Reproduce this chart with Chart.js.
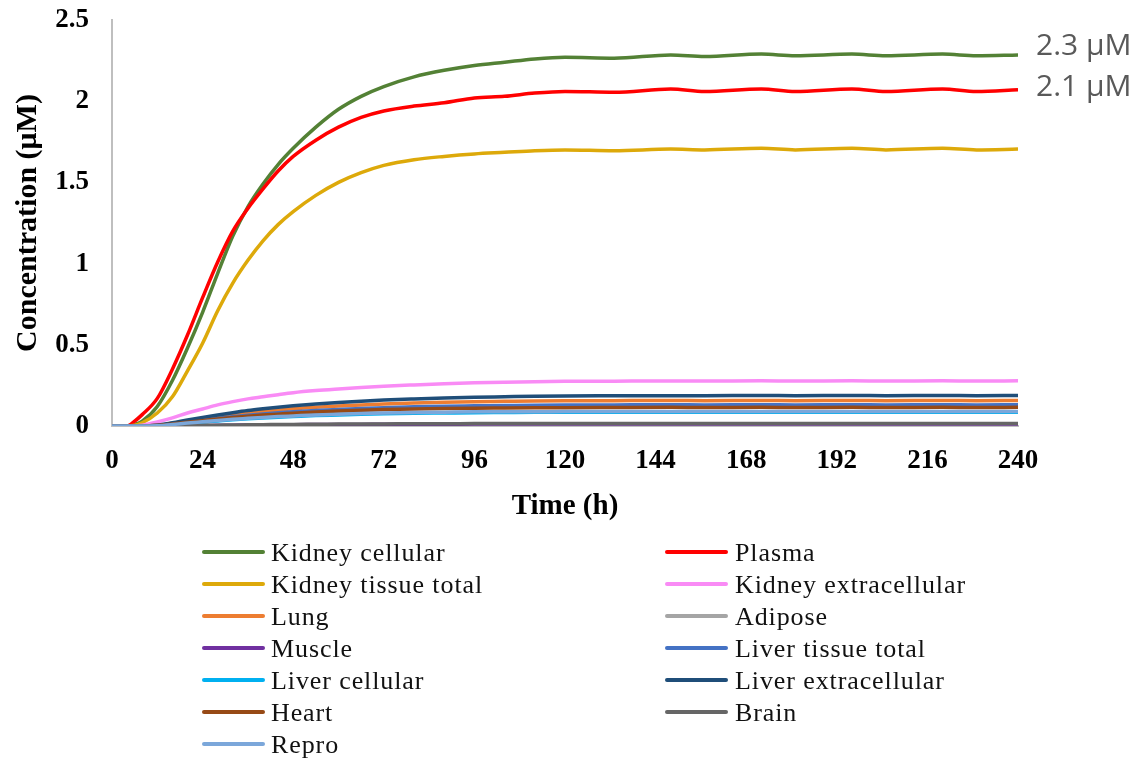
<!DOCTYPE html>
<html><head><meta charset="utf-8">
<script src="https://cdn.jsdelivr.net/npm/chart.js@4.4.0/dist/chart.umd.min.js"></script>
<style>
html,body{margin:0;padding:0;background:#fff;}
#wrap{position:relative;width:1146px;height:759px;overflow:hidden;background:#fff;}
#c{position:absolute;left:0;top:0;}
.lg-line{position:absolute;height:4px;width:63px;border-radius:2px;}
.lg-text{position:absolute;font-family:'Liberation Serif','Times New Roman',serif;font-size:26px;line-height:26px;letter-spacing:0.9px;color:#111;white-space:nowrap;}
.ann{position:absolute;font-family:'Open Sans',sans-serif;font-size:30px;line-height:30px;color:#595959;white-space:nowrap;}
</style></head>
<body><div id="wrap"><canvas id="c" width="1146" height="759"></canvas></div>
<script>
// ---- data ----
const timeH = [0,4,6,8,12,16,20,24,28,32,36,40,44,48,54,60,66,72,80,88,96,104,112,120,133,148,157,172,181,196,205,220,229,240];
const xTicks = [0,24,48,72,96,120,144,168,192,216,240];
const yTicks = [0,0.5,1,1.5,2,2.5];

const kidneyCellular = [0,0,0.01,0.03,0.12,0.28,0.48,0.70,0.94,1.17,1.35,1.49,1.61,1.71,1.84,1.95,2.03,2.09,2.15,2.19,2.22,2.24,2.26,2.27,2.265,2.285,2.275,2.29,2.28,2.29,2.28,2.29,2.28,2.285];
const plasma = [0,0,0.03,0.07,0.17,0.35,0.56,0.79,1.01,1.20,1.34,1.46,1.57,1.66,1.76,1.84,1.90,1.94,1.97,1.99,2.02,2.03,2.05,2.06,2.055,2.075,2.06,2.075,2.06,2.075,2.06,2.075,2.06,2.07];
const kidneyTissueTotal = [0,0,0.005,0.02,0.08,0.18,0.34,0.51,0.71,0.88,1.02,1.14,1.24,1.32,1.42,1.50,1.56,1.605,1.64,1.66,1.675,1.685,1.695,1.70,1.695,1.705,1.70,1.71,1.70,1.71,1.70,1.71,1.70,1.705];
const kidneyExtracellular = [0,0,0,0.005,0.025,0.05,0.08,0.105,0.13,0.15,0.167,0.18,0.193,0.205,0.218,0.228,0.237,0.245,0.253,0.26,0.266,0.27,0.273,0.275,0.276,0.277,0.277,0.278,0.277,0.278,0.277,0.278,0.277,0.278];
const lung = [0,0,0,0,0.004,0.016,0.03,0.044,0.057,0.069,0.08,0.09,0.098,0.106,0.115,0.123,0.13,0.136,0.142,0.147,0.15,0.152,0.154,0.155,0.156,0.157,0.156,0.157,0.156,0.157,0.156,0.157,0.156,0.157];
const adipose = [0,0,0,0,0.002,0.008,0.016,0.025,0.034,0.043,0.051,0.059,0.066,0.072,0.081,0.089,0.096,0.102,0.108,0.113,0.116,0.119,0.121,0.122,0.123,0.124,0.124,0.125,0.124,0.125,0.124,0.125,0.124,0.125];
const muscle = [0,0,0,0,0,0.001,0.002,0.003,0.004,0.005,0.006,0.007,0.008,0.008,0.009,0.01,0.01,0.011,0.011,0.011,0.012,0.012,0.012,0.012,0.012,0.012,0.012,0.012,0.012,0.012,0.012,0.012,0.012,0.012];
const liverTissueTotal = [0,0,0,0,0.003,0.013,0.025,0.037,0.047,0.057,0.066,0.074,0.081,0.087,0.095,0.102,0.108,0.113,0.118,0.122,0.124,0.126,0.128,0.129,0.13,0.131,0.13,0.131,0.13,0.131,0.13,0.131,0.13,0.131];
const liverCellular = [0,0,0,0,0.002,0.008,0.016,0.024,0.031,0.038,0.044,0.049,0.054,0.058,0.064,0.068,0.072,0.075,0.078,0.08,0.082,0.083,0.084,0.084,0.085,0.085,0.085,0.085,0.085,0.085,0.085,0.085,0.085,0.085];
const liverExtracellular = [0,0,0,0,0.005,0.02,0.037,0.053,0.068,0.082,0.095,0.106,0.116,0.125,0.136,0.145,0.153,0.16,0.167,0.173,0.177,0.18,0.183,0.185,0.186,0.187,0.187,0.188,0.187,0.188,0.187,0.188,0.187,0.188];
const heart = [0,0,0,0,0.003,0.012,0.023,0.033,0.043,0.052,0.06,0.067,0.073,0.079,0.086,0.092,0.097,0.101,0.105,0.108,0.11,0.111,0.112,0.113,0.114,0.115,0.114,0.115,0.114,0.115,0.114,0.115,0.114,0.115];
const brain = [0,0,0,0,0.001,0.002,0.003,0.004,0.005,0.006,0.007,0.008,0.009,0.01,0.011,0.012,0.013,0.013,0.014,0.014,0.015,0.015,0.015,0.015,0.016,0.016,0.016,0.016,0.016,0.016,0.016,0.016,0.016,0.016];
const repro = [0,0,0,0,0.002,0.009,0.018,0.026,0.034,0.041,0.047,0.053,0.058,0.062,0.068,0.073,0.077,0.08,0.083,0.085,0.087,0.088,0.088,0.089,0.089,0.09,0.089,0.09,0.089,0.09,0.089,0.09,0.089,0.09];

const seriesNames = ["Kidney cellular","Plasma","Kidney tissue total","Kidney extracellular","Lung","Adipose","Muscle","Liver tissue total","Liver cellular","Liver extracellular","Heart","Brain","Repro"];
const seriesValues = [kidneyCellular,plasma,kidneyTissueTotal,kidneyExtracellular,lung,adipose,muscle,liverTissueTotal,liverCellular,liverExtracellular,heart,brain,repro];
const seriesColors = ["#538135","#FF0000","#DDA90A","#F98BF5","#ED7D31","#A5A5A5","#7030A0","#4472C4","#00B0F0","#1F4E79","#974A16","#666666","#7BA7DA"];
const annotationLabels = ["2.3 μM","2.1 μM"];
const xTitle = "Time (h)";
const yTitle = "Concentration (μM)";

// ---- chart ----
const serif = "'Liberation Serif','Times New Roman',serif";
const N = seriesNames.length;
new Chart(document.getElementById('c').getContext('2d'), {
  type: 'line',
  data: {
    datasets: seriesNames.map((n, i) => ({
      label: n,
      data: timeH.map((t, j) => ({x: t, y: seriesValues[i][j]})),
      borderColor: seriesColors[i],
      backgroundColor: seriesColors[i],
      borderWidth: 3.5,
      pointRadius: 0,
      cubicInterpolationMode: 'monotone',
      fill: false,
      order: N - i
    }))
  },
  options: {
    responsive: false,
    animation: false,
    events: [],
    layout: {padding: {left: 0, top: 20, right: 128, bottom: 219}},
    plugins: {legend: {display: false}, tooltip: {enabled: false}},
    scales: {
      x: {
        type: 'linear', min: xTicks[0], max: xTicks[xTicks.length - 1],
        afterBuildTicks: s => { s.ticks = xTicks.map(v => ({value: v})); },
        ticks: {color: '#000', font: {family: serif, size: 27, weight: 'bold'}, padding: 19, maxRotation: 0, autoSkip: false, callback: v => String(v)},
        grid: {display: false, drawTicks: false},
        border: {display: true, color: '#BFBFBF', width: 2},
        title: {display: true, text: xTitle, color: '#000', font: {family: serif, size: 29, weight: 'bold'}, padding: {top: 0, bottom: 16}},
        afterFit: s => { s.height = 114; s.paddingLeft = 0; s.paddingRight = 0; }
      },
      y: {
        type: 'linear', min: yTicks[0], max: yTicks[yTicks.length - 1],
        afterBuildTicks: s => { s.ticks = yTicks.map(v => ({value: v})); },
        ticks: {color: '#000', font: {family: serif, size: 27, weight: 'bold'}, padding: 23, callback: v => String(v)},
        grid: {display: false, drawTicks: false},
        border: {display: true, color: '#BFBFBF', width: 2},
        title: {display: true, text: yTitle, color: '#000', font: {family: serif, size: 30, weight: 'bold'}, padding: {top: 10, bottom: 0}},
        afterFit: s => { s.width = 112; s.paddingTop = 0; s.paddingBottom = 0; }
      }
    }
  }
});

// ---- legend (HTML) ----
const wrap = document.getElementById('wrap');
const colLineX = [202, 665], colTextX = [271, 735];
seriesNames.forEach((n, i) => {
  const row = Math.floor(i / 2), col = i % 2;
  const cy = 552 + row * 31.95;
  const ln = document.createElement('div');
  ln.className = 'lg-line';
  ln.style.left = colLineX[col] + 'px';
  ln.style.top = (cy - 2) + 'px';
  ln.style.background = seriesColors[i];
  wrap.appendChild(ln);
  const tx = document.createElement('div');
  tx.className = 'lg-text';
  tx.style.left = colTextX[col] + 'px';
  tx.style.top = (cy - 12) + 'px';
  tx.textContent = n;
  wrap.appendChild(tx);
});
// ---- annotations ----
const annTop = [29, 70];
annotationLabels.forEach((t, i) => {
  const d = document.createElement('div');
  d.className = 'ann';
  d.style.left = '1036px';
  d.style.top = annTop[i] + 'px';
  d.textContent = t;
  wrap.appendChild(d);
});
</script>
</body></html>
